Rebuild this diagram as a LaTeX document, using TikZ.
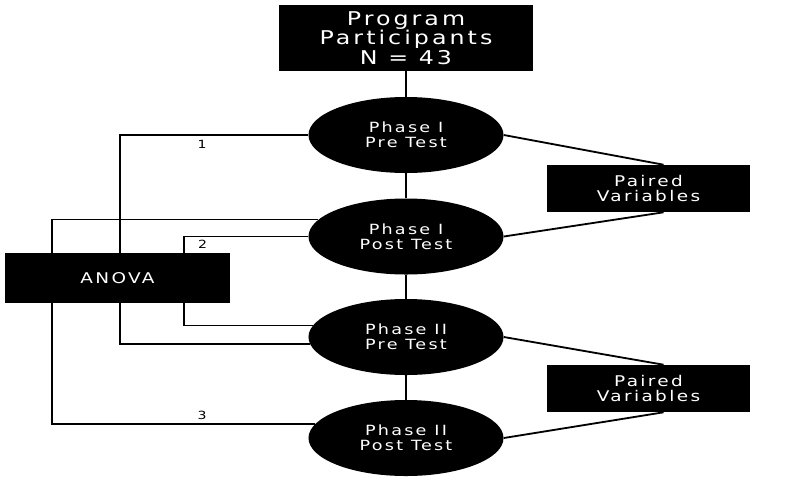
\documentclass[tikz,border=0pt]{standalone}
\usepackage{fontspec}
\setmainfont[FakeStretch=1.25,LetterSpace=16]{DejaVu Sans}
\usetikzlibrary{shapes.geometric,calc}
\begin{document}
\begin{tikzpicture}[x=0.025cm,y=-0.025cm,
    blackbox/.style={rectangle,fill=black,text=white,inner sep=0pt,align=center},
    phase/.style={ellipse,fill=black,text=white,inner sep=0pt,align=center,
      minimum width=4.875cm,minimum height=1.9cm,font=\fontsize{10}{11}\selectfont},
    link/.style={line width=1.3pt},
    num/.style={font=\fontsize{8}{9}\selectfont}]
  \useasboundingbox (0,0) rectangle (788,482);

  \node[blackbox,minimum width=6.325cm,minimum height=1.65cm,
    font=\fontsize{13.5}{14}\selectfont] (prog) at (406,38) {Program\\Participants\\N = 43};
  \node[phase] (preI) at (406,135) {Phase I\\Pre Test};
  \node[phase] (postI) at (406,236.5) {Phase I\\Post Test};
  \node[phase] (preII) at (406,337) {Phase II\\Pre Test};
  \node[phase] (postII) at (406,438) {Phase II\\Post Test};
  \node[blackbox,minimum width=5.075cm,minimum height=1.175cm,
    font=\fontsize{10.5}{11}\selectfont] (pairI) at (648.5,188.5) {Paired\\Variables};
  \node[blackbox,minimum width=5.075cm,minimum height=1.175cm,
    font=\fontsize{10.5}{11}\selectfont] (pairII) at (648.5,388.5) {Paired\\Variables};

  % main chain
  \draw[link,line width=2pt] (prog) -- (preI) -- (postI) -- (preII) -- (postII);

  % paired variables
  \draw[link] (preI.east) -- ($(pairI.north)+(15,0)$);
  \draw[link] (postI.east) -- ($(pairI.south)+(15,0)$);
  \draw[link] (preII.east) -- ($(pairII.north)+(15,0)$);
  \draw[link] (postII.east) -- ($(pairII.south)+(15,0)$);

  % anova brackets
  \coordinate (spineI) at (120,0);
  \coordinate (spineII) at (184,0);
  \coordinate (spineIII) at (52,0);
  \draw[link] (preI.west) -- (preI.west -| spineI) |- (preII.184);
  \draw[link] (postI.west) -- (postI.west -| spineII) |- (preII.173);
  \draw[link] (postI.169) -- (postI.169 -| spineIII) |- (postII.171);

  \node[num] (nI) at (202,144) {1};
  \node[num] (nII) at (202.5,244.5) {2};
  \node[num] (nIII) at (202,415) {3};

  \node[blackbox,minimum width=5.625cm,minimum height=1.25cm,
    font=\fontsize{10.5}{11}\selectfont] (anova) at (117.5,278) {ANOVA};
\end{tikzpicture}
\end{document}
